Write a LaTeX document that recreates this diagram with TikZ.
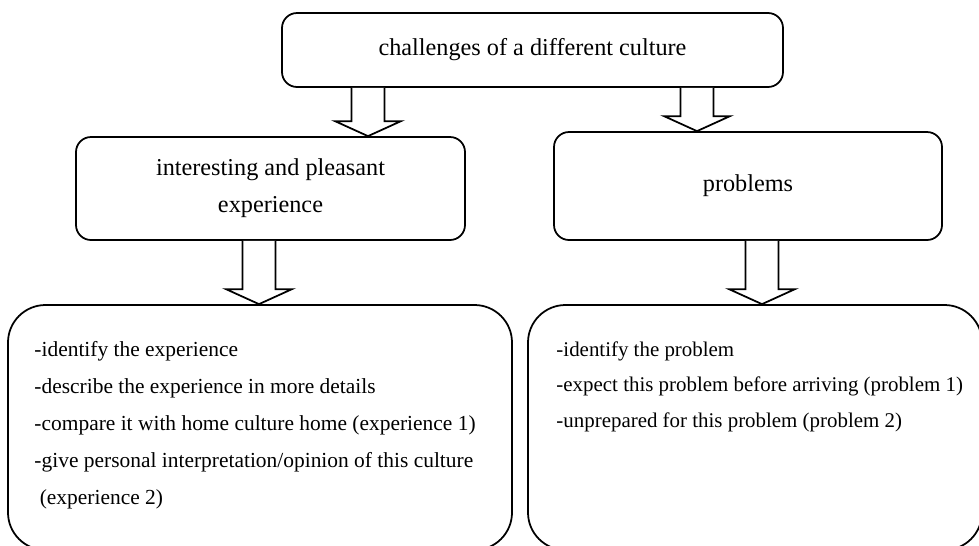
\documentclass[tikz,border=0pt]{standalone}
\usepackage{fontspec}
\setmainfont{Liberation Serif}
\usetikzlibrary{calc}

\begin{document}
\begin{tikzpicture}[
        headbox/.style={draw, rectangle, rounded corners=0.3cm, align=center, line width=1pt},
        listbox/.style={draw, rectangle, rounded corners=0.75cm, line width=1pt},
        listtext/.style={align=left, inner sep=0pt, anchor=north west, font=\fontsize{12.2}{21}\selectfont},
        hollow/.style={draw, line width=1pt, fill=white},
        every node/.style={font=\fontsize{13.8}{21}\selectfont}
    ]
    \path[use as bounding box, clip] (0,0) rectangle (19.58,-10.9);

    % --- ROW 1: Topic ---
    \node[headbox, minimum width=10.02cm, minimum height=1.48cm] (challenge) at (10.65,-1.0) {challenges of a different culture};

    % --- ROW 2: Two kinds of challenge ---
    \node[headbox, minimum width=7.78cm, minimum height=2.06cm] (pleasant) at (5.41,-3.77) {interesting and pleasant\\experience};
    \node[headbox, minimum width=7.76cm, minimum height=2.16cm] (problems) at (14.96,-3.72) {problems};

    % --- ROW 3: Steps for each ---
    \node[listbox, minimum width=10.08cm, minimum height=4.9cm] (expsteps) at (5.2,-8.55) {};
    \node[listbox, minimum width=9.08cm, minimum height=4.9cm] (probsteps) at (15.1,-8.55) {};

    \node[listtext] (exptext) at ([xshift=0.54cm, yshift=-0.74cm]expsteps.north west) {-identify the experience\\-describe the experience in more details\\-compare it with home culture home (experience 1)\\-give personal interpretation/opinion of this culture\\\hspace*{0.25em}(experience 2)};
    \node[listtext, font=\fontsize{11.9}{20.2}\selectfont] (probtext) at ([xshift=0.58cm, yshift=-0.74cm]probsteps.north west) {-identify the problem\\-expect this problem before arriving (problem 1)\\-unprepared for this problem (problem 2)};

    % --- HOLLOW ARROWS ---
    \foreach \ax/\from/\to in {7.36/challenge/pleasant, 13.94/challenge/problems, 5.18/pleasant/expsteps, 15.24/problems/probsteps} {
        \path (\ax,0 |- \from.south) coordinate (shafttop) (\ax,0 |- \to.north) coordinate (tip);
        \draw[hollow] ($(shafttop)+(-0.33,0)$) -- ($(tip)+(-0.33,0.3)$) -- ($(tip)+(-0.66,0.3)$) -- (tip)
            -- ($(tip)+(0.66,0.3)$) -- ($(tip)+(0.33,0.3)$) -- ($(shafttop)+(0.33,0)$);
    }

    \end{tikzpicture}
\end{document}
